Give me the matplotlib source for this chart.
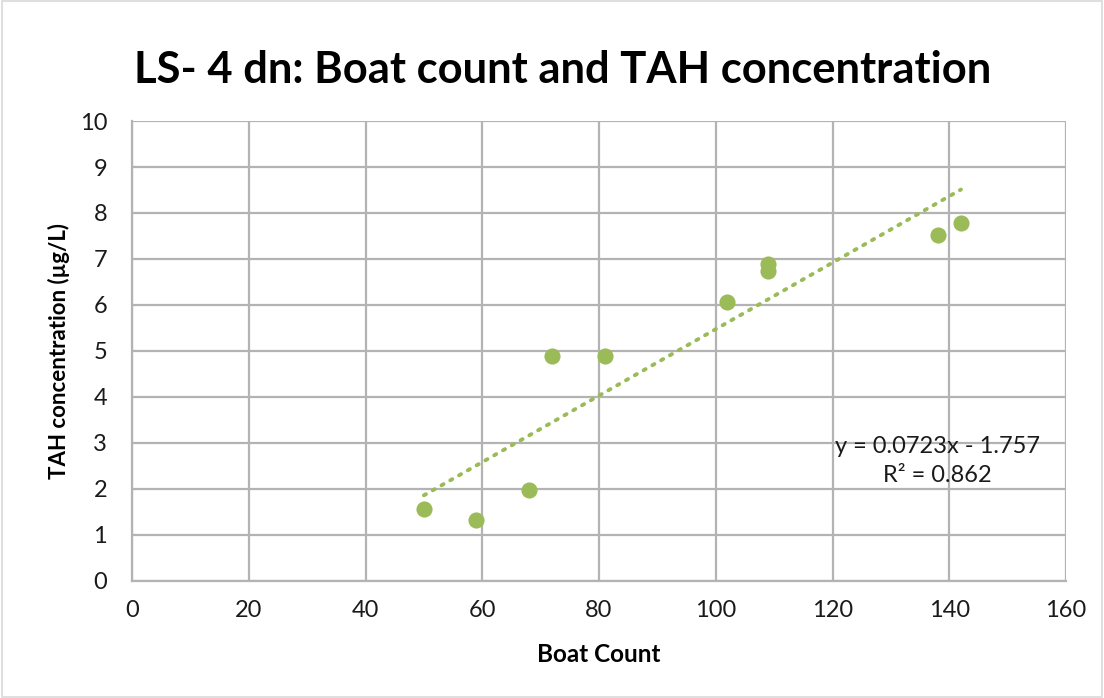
import numpy as np
import matplotlib
matplotlib.use("Agg")
import matplotlib.pyplot as plt
from matplotlib.patches import Rectangle

boat_count = [50, 59, 68, 72, 81, 102, 109, 109, 138, 142]
tah_conc = [1.57, 1.33, 1.97, 4.88, 4.88, 6.06, 6.90, 6.74, 7.52, 7.78]
x_ticks = [0, 20, 40, 60, 80, 100, 120, 140, 160]
y_ticks = [0, 1, 2, 3, 4, 5, 6, 7, 8, 9, 10]
title = "LS- 4 dn: Boat count and TAH concentration"
eq_text = "y = 0.0723x - 1.757\nR² = 0.862"

green = "#9BBB59"
grid_c = "#B3B3B3"
plt.rcParams['font.family'] = ['Lato', 'DejaVu Sans']

fig = plt.figure(figsize=(11.04, 6.98), dpi=100)
fig.patches.append(Rectangle((0.002, 0.002), 0.996, 0.996, transform=fig.transFigure,
                             fill=False, edgecolor="#D9D9D9", linewidth=1.2))
ax = fig.add_axes([0.1196, 0.168, 0.8460, 0.6586])

ax.set_xlim(0, 160)
ax.set_ylim(0, 10)
ax.set_xticks(x_ticks)
ax.set_yticks(y_ticks)
ax.grid(True, color=grid_c, linewidth=1.6)
ax.set_axisbelow(True)
for s in ax.spines.values():
    s.set_visible(False)
ax.spines['left'].set_visible(True)
ax.spines['bottom'].set_visible(True)
ax.spines['left'].set_color(grid_c)
ax.spines['bottom'].set_color(grid_c)
ax.spines['left'].set_linewidth(1.6)
ax.spines['bottom'].set_linewidth(1.6)
ax.tick_params(axis='both', length=0, labelsize=17, colors="#1a1a1a")
ax.tick_params(axis='x', pad=14)
ax.tick_params(axis='y', pad=18)

xs = np.array(boat_count, dtype=float)
ys = np.array(tah_conc, dtype=float)
slope, intercept = 0.0723, -1.757
tx = np.array([xs.min(), xs.max()])
ax.plot(tx, slope * tx + intercept, linestyle=(0, (0.6, 2.0)), color=green,
        linewidth=2.8, dash_capstyle='round', zorder=2)
ax.scatter(xs, ys, s=135, color=green, zorder=3, linewidths=0)

ax.text(138, 2.6, eq_text, ha='center', va='center', fontsize=17,
        color="#1a1a1a", linespacing=1.45)

ax.set_xlabel("Boat Count", fontsize=17.5, fontweight='bold', labelpad=16)
ax.set_ylabel("TAH concentration (µg/L)", fontsize=16, fontweight='bold', labelpad=7)
fig.text(0.5095, 0.8807, title, ha='center', va='baseline', fontsize=31.3, fontweight='bold')

fig.savefig("out.png", dpi=100)
